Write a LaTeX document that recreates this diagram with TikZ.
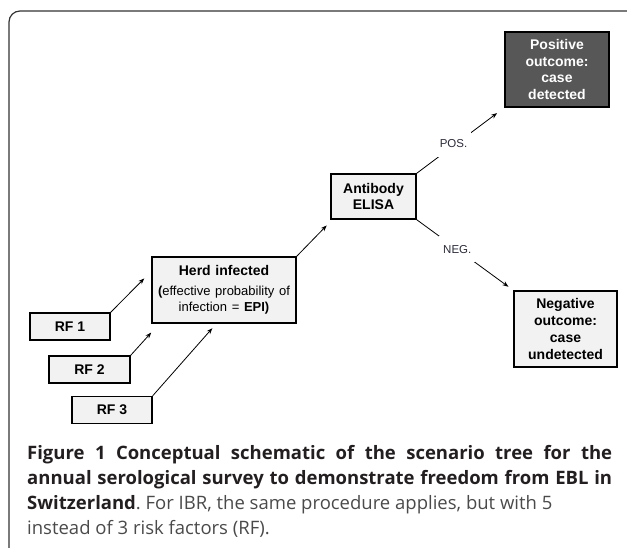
\documentclass[tikz,border=0pt]{standalone}
\usepackage{fontspec}
\setmainfont{Liberation Sans}
\newfontfamily\capfont{Open Sans}
\usetikzlibrary{arrows.meta}
\definecolor{framec}{HTML}{333333}
\definecolor{boxfill}{HTML}{F2F2F2}
\definecolor{darkfill}{HTML}{575757}
\definecolor{capbold}{HTML}{231F20}
\definecolor{captext}{HTML}{4A4A4A}
\definecolor{labtext}{HTML}{2B2B3A}
\frenchspacing
\tikzset{
  frame/.style={draw=framec, line width=1.2pt, rounded corners=11pt},
  box/.style={draw=black, fill=boxfill, line width=1.4pt, align=center, inner sep=0pt,
    font=\fontsize{14}{16.7}\selectfont\bfseries},
  darkbox/.style={box, fill=darkfill, text=white},
  arr/.style={draw=black, line width=0.8pt, -{Stealth[length=6pt,width=4.5pt]}},
  brlab/.style={text=labtext, fill=white, inner xsep=4pt, inner ysep=9pt,
    font=\fontsize{11.5}{13}\selectfont},
  captxt/.style={text=captext, text width=585pt, align=justify, inner sep=0pt,
    anchor=north west, font=\capfont\fontsize{18.5}{25}\selectfont}
}

\begin{document}
\begin{tikzpicture}[x=1pt,y=-1pt]
  \useasboundingbox (0,0) rectangle (627,548);
  \clip (0,0) rectangle (627,548);
  % frame round the figure
  \draw[frame] (9,11) rectangle (660,590);
  % tree boxes
  \node[darkbox, minimum width=104pt, minimum height=75pt] (pos) at (557,69.5)
    {Positive\\outcome:\\case\\detected};
  \node[box, minimum width=103pt, minimum height=76pt] (neg) at (565.5,329)
    {Negative\\outcome:\\case\\undetected};
  \node[box, minimum width=85pt, minimum height=45pt] (elisa) at (373.5,196.5)
    {Antibody\\ELISA};
  \node[box, minimum width=144pt, minimum height=66pt, text width=140pt] (herd) at (224,290)
    {Herd infected\\[5pt]\mdseries\fontsize{13}{14.5}\selectfont
     \textbf{(}effective probability of\\infection = \textbf{EPI)}};
  \node[box, minimum width=80pt, minimum height=27pt] (rf1) at (70,326.5) {RF 1};
  \node[box, minimum width=81pt, minimum height=27pt] (rf2) at (89.5,369.5) {RF 2};
  \node[box, minimum width=80pt, minimum height=27pt] (rf3) at (112,410) {RF 3};
  % connectors
  \draw[arr, shorten >=10pt] (rf1.north east) -- ([yshift=-15pt]herd.north west);
  \draw[arr, shorten >=12pt] (rf2.north east) -- ([xshift=8pt]herd.south west);
  \draw[arr, shorten >=6pt] (rf3.north east) -- ([xshift=65pt]herd.south west);
  \draw[arr, shorten >=8pt] (herd.north east) -- ([xshift=2pt]elisa.south west);
  \draw[arr, shorten >=9pt] (elisa.north east) -- node[brlab, pos=0.42, yshift=2pt] (lpos) {POS.} (pos.south west);
  \draw[arr, shorten >=6pt] (elisa.south east) -- node[brlab, pos=0.42] (lneg) {NEG.} (neg.north west);
  % caption
  \node[captxt] (cap) at (27,445)
    {\textcolor{capbold}{\bfseries Figure 1 Conceptual schematic of the scenario tree for the\linebreak
     annual serological survey to demonstrate freedom from EBL in\linebreak
     Switzerland}. For IBR, the same procedure applies, but with 5\\
     instead of 3 risk factors (RF).};
\end{tikzpicture}
\end{document}
